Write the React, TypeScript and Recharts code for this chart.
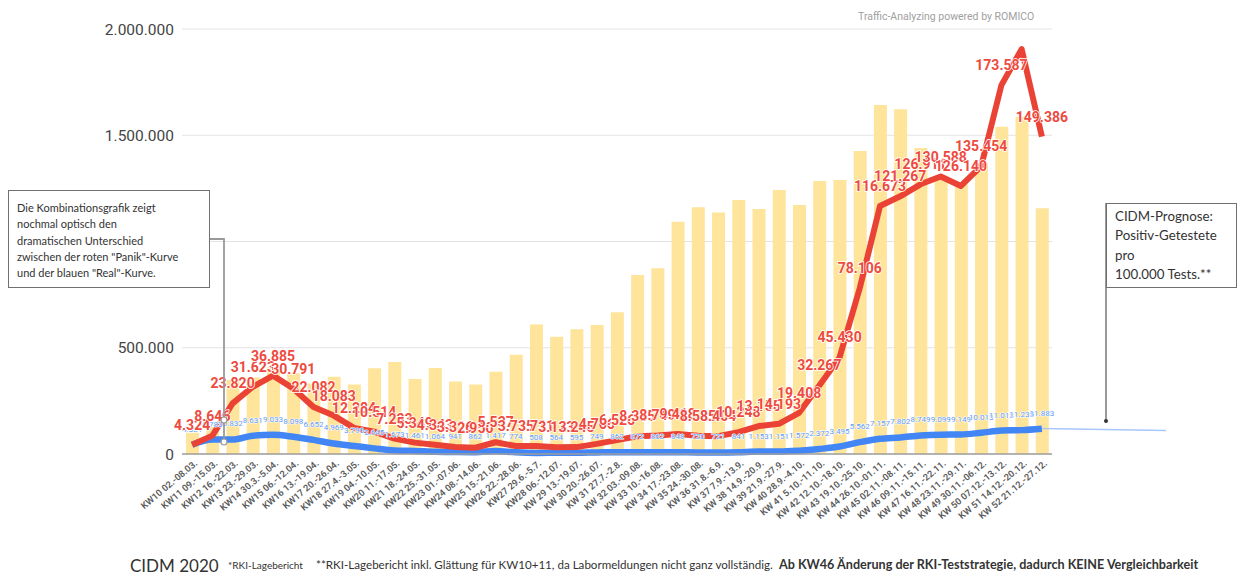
import React from "react";
import {
  ComposedChart,
  Bar,
  Line,
  XAxis,
  YAxis,
  CartesianGrid,
  LabelList,
} from "recharts";

// Kalenderwochen 2020
const weeks = [
  "KW10 02.-08.03.", "KW11 09.-15.03.", "KW12 16.-22.03.", "KW13 23.-29.03.",
  "KW14 30.3.-5.04.", "KW15 06.-12.04.", "KW16 13.-19.04.", "KW17 20.-26.04.",
  "KW18 27.4.-3.05.", "KW19 04.-10.05.", "KW20 11.-17.05.", "KW21 18.-24.05.",
  "KW22 25.-31.05.", "KW23 01.-07.06.", "KW24 08.-14.06.", "KW25 15.-21.06.",
  "KW26 22.-28.06.", "KW27 29.6.-5.7.", "KW28 06.-12.07.", "KW 29 13.-19.07.",
  "KW 30 20.-26.07.", "KW 31 27.7.-2.8.", "KW 32 03.-09.08.", "KW 33 10.-16.08.",
  "KW 34 17.-23.08.", "KW 35 24.-30.08.", "KW 36 31.8.-6.9.", "KW 37 7.9.-13.9.",
  "KW 38 14.9.-20.9.", "KW 39 21.9.-27.9.", "KW 40 28.9.-4.10.", "KW 41 5.10.-11.10.",
  "KW 42 12.10.-18.10.", "KW 43 19.10.-25.10.", "KW 44 26.10.-01.11.", "KW 45 02.11.-08.11.",
  "KW 46 09.11.-15.11.", "KW 47 16.11.-22.11.", "KW 48 23.11.-29.11.", "KW 49 30.11.-06.12.",
  "KW 50 07.12.-13.12.", "KW 51 14.12.-20.12.", "KW 52 21.12.-27.12.",
];

// Anzahl Tests je Woche (Balken)
const tests = [
  100070, 127457, 348619, 361515, 408348, 380197, 331902, 363890, 326788, 403875,
  432666, 353467, 405269, 340986, 326645, 387484, 467003, 610000, 552000, 587000,
  607000, 667000, 842000, 874000, 1093000, 1161000, 1136000, 1195000, 1153000, 1242000,
  1172000, 1285000, 1290000, 1426000, 1642000, 1622000, 1440000, 1310000, 1270000, 1370000,
  1540000, 1587000, 1156000,
];

// Positiv Getestete je Woche ("Panik"-Kurve)
const positives = [
  4324, 8646, 23820, 31623, 36885, 30791, 22082, 18083, 12284, 10514,
  7233, 5349, 4343, 3326, 2950, 5537, 3735, 3731, 3123, 3245,
  4766, 6526, 8385, 8749, 9418, 8585, 8404, 10248, 13155, 14193,
  19408, 32267, 45430, 78106, 116673, 121267, 126911, 130588, 126140, 135454,
  173587, 190500, 149386,
];

// Positiv Getestete pro 100.000 Tests ("Real"-Kurve)
const per100k = [
  4321, 6783, 6832, 8631, 9033, 8098, 6652, 4969, 3790, 2645,
  1673, 1461, 1064, 941, 862, 1417, 774, 508, 564, 595,
  749, 862, 872, 862, 848, 720, 721, 841, 1153, 1151,
  1572, 2372, 3495, 5562, 7157, 7802, 8749, 9099, 9149, 10013,
  11013, 11235, 11883,
];

const yTicks = [0, 500000, 1000000, 1500000, 2000000];
const hiddenRedLabels = [41];

const data = weeks.map((kw, i) => ({
  kw,
  tests: tests[i],
  positives: positives[i],
  rate: per100k[i],
}));

const fmt = (v: number) => String(v).replace(/\B(?=(\d{3})+(?!\d))/g, ".");

const WeekTick = (props: any) => {
  const { x, y, payload } = props;
  const tx = x + 4;
  const ty = y;
  return (
    <text
      x={tx}
      y={ty}
      dy={3}
      transform={`rotate(-40 ${tx} ${ty})`}
      textAnchor="end"
      fontSize={9.3}
      fontWeight={600}
      fill="#5a5a5a"
      fontFamily="Roboto, sans-serif"
    >
      {payload.value}
    </text>
  );
};

const RedLabel = (props: any) => {
  const { x, y, value, index } = props;
  if (hiddenRedLabels.includes(index)) return null;
  return (
    <text
      x={x}
      y={y - 15}
      textAnchor="middle"
      fontSize={14}
      fontWeight={700}
      fill="#ee4a3f"
      stroke="#fff"
      strokeWidth={1.5}
      paintOrder="stroke"
      fontFamily="Roboto, sans-serif"
    >
      {fmt(value)}
    </text>
  );
};

const BlueLabel = (props: any) => {
  const { x, y, value } = props;
  return (
    <text
      x={x}
      y={y - 13}
      textAnchor="middle"
      fontSize={8}
      fill="#5f9af8"
      stroke="#fff"
      strokeWidth={1}
      paintOrder="stroke"
      fontFamily="Roboto, sans-serif"
    >
      {fmt(value)}
    </text>
  );
};

export default function App() {
  return (
    <div
      style={{
        position: "absolute",
        left: 0,
        top: 0,
        width: 1241,
        height: 583,
        background: "#fff",
        overflow: "hidden",
      }}
    >
      <ComposedChart
        width={1241}
        height={583}
        data={data}
        margin={{ top: 29, right: 189, left: 0, bottom: 0 }}
      >
        <CartesianGrid yAxisId="tests" vertical={false} stroke="#e3e3e3" strokeWidth={1.2} />
        <XAxis
          dataKey="kw"
          interval={0}
          height={129}
          tick={<WeekTick />}
          tickLine={false}
          axisLine={{ stroke: "#9e9e9e", strokeWidth: 1.5 }}
        />
        <YAxis
          yAxisId="tests"
          width={182}
          domain={[0, 2000000]}
          ticks={yTicks}
          tickFormatter={fmt}
          axisLine={false}
          tickLine={false}
          tick={{ fontSize: 15.5, fill: "#444", fontFamily: "Roboto, sans-serif" }}
        />
        <YAxis yAxisId="pos" orientation="right" hide domain={[0, 200000]} />
        <Bar
          yAxisId="tests"
          dataKey="tests"
          barSize={13}
          fill="#fee59b"
          isAnimationActive={false}
        />
        <Line
          yAxisId="pos"
          type="monotone"
          dataKey="rate"
          stroke="#4285f4"
          strokeWidth={6.5}
          dot={false}
          isAnimationActive={false}
        >
          <LabelList dataKey="rate" content={<BlueLabel />} />
        </Line>
        <Line
          yAxisId="pos"
          type="linear"
          dataKey="positives"
          stroke="#ea4335"
          strokeWidth={6}
          strokeLinejoin="round"
          dot={false}
          isAnimationActive={false}
        >
          <LabelList dataKey="positives" content={<RedLabel />} />
        </Line>
      </ComposedChart>

      {/* annotation lines */}
      <svg
        width={1241}
        height={583}
        style={{ position: "absolute", left: 0, top: 0, pointerEvents: "none" }}
      >
        <polyline points="210,239 224,239 224,442" fill="none" stroke="#999" strokeWidth={1.8} />
        <circle cx={224} cy={420} r={3} fill="#fff" stroke="#999" strokeWidth={1.2} />
        <circle cx={224} cy={442} r={3} fill="#fff" stroke="#999" strokeWidth={1.2} />
        <line x1={1042} y1={428.5} x2={1166} y2={430.5} stroke="#a8c7fa" strokeWidth={1.5} />
        <line x1={1106} y1={203} x2={1106} y2={421} stroke="#777" strokeWidth={1.5} />
        <circle cx={1106} cy={421} r={2} fill="#333" />
      </svg>

      <div
        style={{
          position: "absolute",
          left: 858,
          top: 10,
          fontFamily: "Roboto, sans-serif",
          fontSize: 10.5,
          color: "#a0a0a0",
          whiteSpace: "nowrap",
        }}
      >
        Traffic-Analyzing powered by ROMICO
      </div>

      <div
        style={{
          position: "absolute",
          left: 8,
          top: 190,
          width: 202,
          height: 98,
          boxSizing: "border-box",
          border: "1.5px solid #707070",
          background: "#fff",
          padding: "9px 0 0 8px",
          fontFamily: "Lato, sans-serif",
          fontSize: 11,
          lineHeight: "16.3px",
          color: "#333",
        }}
      >
        Die Kombinationsgrafik zeigt
        <br />
        nochmal optisch den
        <br />
        dramatischen Unterschied
        <br />
        zwischen der roten "Panik"-Kurve
        <br />
        und der blauen "Real"-Kurve.
      </div>

      <div
        style={{
          position: "absolute",
          left: 1106,
          top: 203,
          width: 131,
          height: 85,
          boxSizing: "border-box",
          border: "1.5px solid #707070",
          background: "#fff",
          padding: "3px 0 0 8px",
          fontFamily: "Lato, sans-serif",
          fontSize: 13.3,
          lineHeight: "19.3px",
          color: "#333",
        }}
      >
        CIDM-Prognose:
        <br />
        Positiv-Getestete
        <br />
        pro
        <br />
        100.000 Tests.**
      </div>

      <div
        style={{
          position: "absolute",
          left: 130,
          top: 555,
          fontFamily: "Lato, sans-serif",
          fontSize: 17,
          color: "#333",
          whiteSpace: "nowrap",
        }}
      >
        CIDM 2020
      </div>
      <div
        style={{
          position: "absolute",
          left: 228,
          top: 559,
          fontFamily: "Lato, sans-serif",
          fontSize: 10,
          color: "#333",
          whiteSpace: "nowrap",
        }}
      >
        *RKI-Lagebericht
      </div>
      <div
        style={{
          position: "absolute",
          left: 316,
          top: 558,
          fontFamily: "Lato, sans-serif",
          fontSize: 11.6,
          color: "#333",
          whiteSpace: "nowrap",
        }}
      >
        **RKI-Lagebericht inkl. Glättung für KW10+11, da Labormeldungen nicht ganz vollständig.
      </div>
      <div
        style={{
          position: "absolute",
          left: 779,
          top: 557,
          fontFamily: "Lato, sans-serif",
          fontSize: 12.6,
          fontWeight: 700,
          color: "#333",
          whiteSpace: "nowrap",
        }}
      >
        Ab KW46 Änderung der RKI-Teststrategie, dadurch KEINE Vergleichbarkeit
      </div>
    </div>
  );
}
